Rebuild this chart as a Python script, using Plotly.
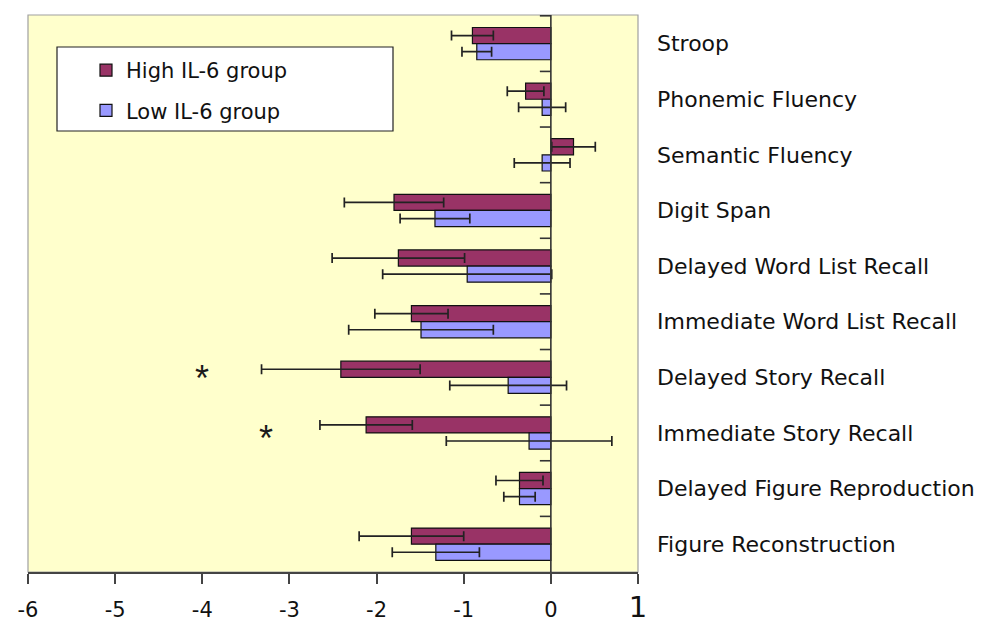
import plotly.graph_objects as go

# Cognitive test z-score change by IL-6 group (mean and standard error)
tests = [
    "Stroop",
    "Phonemic Fluency",
    "Semantic Fluency",
    "Digit Span",
    "Delayed Word List Recall",
    "Immediate Word List Recall",
    "Delayed Story Recall",
    "Immediate Story Recall",
    "Delayed Figure Reproduction",
    "Figure Reconstruction",
]
high_mean = [-0.90, -0.29, 0.26, -1.80, -1.75, -1.60, -2.41, -2.12, -0.36, -1.60]
high_err = [0.24, 0.21, 0.25, 0.57, 0.76, 0.42, 0.91, 0.53, 0.27, 0.60]
low_mean = [-0.85, -0.10, -0.10, -1.33, -0.96, -1.49, -0.49, -0.25, -0.36, -1.32]
low_err = [0.17, 0.27, 0.32, 0.40, 0.97, 0.83, 0.67, 0.95, 0.18, 0.50]

# Tests with a significant group difference
signif_tests = ["Delayed Story Recall", "Immediate Story Recall"]
signif_x = [-4.0, -3.27]

x_ticks = [-6, -5, -4, -3, -2, -1, 0, 1]
x_ticktext = ["-6", "-5", "-4", "-3", "-2", "-1", "0",
              '<span style="font-size:29px">1</span>']

FONT = "DejaVu Sans"
HIGH_COLOR = "#993366"
LOW_COLOR = "#9999FF"

err_style = dict(type="data", color="#222222", thickness=1.7, width=5)

fig = go.Figure()
fig.add_trace(go.Bar(
    name="High IL-6 group", y=tests, x=high_mean, orientation="h",
    marker=dict(color=HIGH_COLOR, line=dict(color="#111111", width=1.2)),
    error_x=dict(array=high_err, **err_style),
    legendgroup="high",
))
fig.add_trace(go.Bar(
    name="Low IL-6 group", y=tests, x=low_mean, orientation="h",
    marker=dict(color=LOW_COLOR, line=dict(color="#111111", width=1.2)),
    error_x=dict(array=low_err, **err_style),
    legendgroup="low",
))

# Significance markers (drawn beside the high-group bars)
star_shift = [-1, -6]
for name, xv, dy in zip(signif_tests, signif_x, star_shift):
    fig.add_annotation(x=xv, y=name, text="*", showarrow=False,
                       font=dict(family="Liberation Sans", size=36, color="#1a1a1a"),
                       yshift=dy)

shapes = []
# Plot-area frame (top, left, right edges)
shapes.append(dict(type="rect", xref="paper", yref="paper", x0=0, x1=1, y0=0, y1=1,
                   line=dict(color="#A0A0A0", width=1.2), layer="below"))
# Vertical axis at zero with tick marks between categories
shapes.append(dict(type="line", xref="x", yref="y domain", x0=0, x1=0, y0=0, y1=1,
                   line=dict(color="#333333", width=1.6)))
for k in range(len(tests)):
    shapes.append(dict(type="line", xref="x", yref="y", xsizemode="pixel", xanchor=0,
                       x0=-11, x1=0, y0=k - 0.5, y1=k - 0.5,
                       line=dict(color="#333333", width=1.6)))
# Legend box
shapes.append(dict(type="rect", xref="paper", yref="paper",
                   x0=(57 - 28) / 610, x1=(393 - 28) / 610,
                   y0=(572 - 131) / 557, y1=(572 - 47) / 557,
                   fillcolor="white", line=dict(color="#222222", width=1.2),
                   layer="above"))

fig.update_layout(
    width=991, height=623,
    margin=dict(l=28, r=353, t=15, b=51, autoexpand=False),
    paper_bgcolor="white",
    plot_bgcolor="#FFFFCC",
    barmode="group",
    bargap=0.42,
    bargroupgap=0,
    showlegend=True,
    legend=dict(
        x=(86 - 28) / 610, xanchor="left",
        y=(572 - 50) / 557, yanchor="top",
        bgcolor="rgba(0,0,0,0)", borderwidth=0,
        font=dict(family=FONT, size=21, color="#111111"),
        traceorder="grouped", tracegroupgap=10,
        itemwidth=30,
    ),
    shapes=shapes,
    font=dict(family=FONT, color="#111111"),
)

fig.update_xaxes(
    range=[-6, 1], tickvals=x_ticks, ticktext=x_ticktext,
    ticks="outside", ticklen=10, tickwidth=1.6, tickcolor="#444444",
    showline=True, linecolor="#444444", linewidth=1.6,
    showgrid=False, zeroline=False, automargin=False,
    tickfont=dict(family=FONT, size=21, color="#111111"),
    ticklabelstandoff=8,
)
fig.update_yaxes(
    categoryorder="array", categoryarray=tests, autorange="reversed",
    side="right", ticks="", showline=False, showgrid=False, zeroline=False,
    automargin=False,
    tickfont=dict(family=FONT, size=22, color="#111111"),
    ticklabelstandoff=18,
)

fig.write_html("out.html")
